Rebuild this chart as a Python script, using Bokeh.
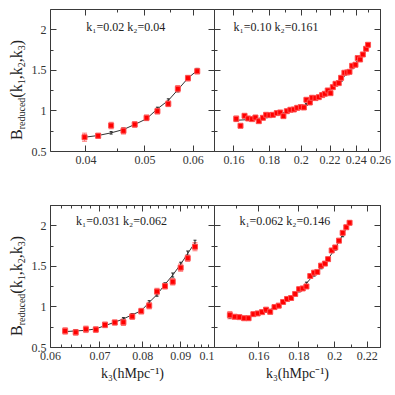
from bokeh.plotting import figure
from bokeh.layouts import row, column
from bokeh.models import (FixedTicker, LinearAxis, LogAxis, Range1d, Whisker, Div,
                          ColumnDataSource, CustomJSTickFormatter, Label, TeeHead)
from bokeh.embed import file_html
from bokeh.resources import INLINE

# ---------------- data ----------------
# panel A: k1=0.02 k2=0.04
k3_a = [0.0398, 0.0419, 0.0440, 0.0461, 0.0481, 0.0503, 0.0524, 0.0546, 0.0566, 0.0588, 0.0609]
B_a = [0.676, 0.694, 0.820, 0.755, 0.833, 0.915, 0.997, 1.088, 1.273, 1.404, 1.490]
err_a = [0.05, 0.03, 0.04, 0.04, 0.035, 0.035, 0.035, 0.035, 0.04, 0.035, 0.035]
th_a = [0.676, 0.697, 0.730, 0.771, 0.833, 0.903, 1.026, 1.129, 1.261, 1.404, 1.499]
therr_a = [0.01, 0.01, 0.015, 0.015, 0.015, 0.015, 0.02, 0.02, 0.025, 0.025, 0.025]

# panel B: k1=0.10 k2=0.161
k3_b = [0.1612, 0.1635, 0.1657, 0.1677, 0.1699, 0.1718, 0.1737, 0.1761, 0.1780, 0.1800,
        0.1820, 0.1844, 0.1865, 0.1885, 0.1906, 0.1929, 0.1951, 0.1973, 0.1997, 0.2017,
        0.2034, 0.2057, 0.2073, 0.2096, 0.2119, 0.2143, 0.2162, 0.2183, 0.2203, 0.2220,
        0.2240, 0.2264, 0.2282, 0.2307, 0.2328, 0.2346, 0.2367, 0.2393, 0.2411, 0.2430,
        0.2452, 0.2479, 0.2495]
B_b = [0.903, 0.817, 0.940, 0.907, 0.899, 0.919, 0.874, 0.915, 0.952, 0.948,
       0.952, 0.973, 0.981, 0.936, 0.997, 1.014, 1.018, 1.038, 1.047, 1.043,
       1.137, 1.104, 1.162, 1.158, 1.170, 1.195, 1.211, 1.252, 1.219, 1.293,
       1.334, 1.343, 1.408, 1.470, 1.474, 1.482, 1.556, 1.569, 1.651, 1.634,
       1.696, 1.766, 1.815]
err_b = [0.035, 0.02, 0.02, 0.02, 0.02, 0.02, 0.02, 0.02, 0.02, 0.02,
         0.02, 0.02, 0.02, 0.02, 0.02, 0.02, 0.02, 0.02, 0.02, 0.02,
         0.02, 0.02, 0.02, 0.02, 0.02, 0.02, 0.02, 0.02, 0.02, 0.02,
         0.02, 0.02, 0.02, 0.02, 0.02, 0.02, 0.02, 0.02, 0.02, 0.02,
         0.02, 0.02, 0.02]
tk_b = [0.1612, 0.1699, 0.1780, 0.1865, 0.1951, 0.2034, 0.2119, 0.2203, 0.2282, 0.2367, 0.2452, 0.2495]
th_b = [0.885, 0.895, 0.925, 0.965, 1.015, 1.080, 1.165, 1.255, 1.380, 1.540, 1.700, 1.800]
therr_b = [0.01, 0.01, 0.01, 0.01, 0.01, 0.01, 0.015, 0.015, 0.015, 0.02, 0.02, 0.02]

# panel C: k1=0.031 k2=0.062
k3_c = [0.0628, 0.0649, 0.0670, 0.0691, 0.0711, 0.0733, 0.0753, 0.0774, 0.0796, 0.0816,
        0.0836, 0.0857, 0.0878, 0.0900, 0.0920, 0.0941]
B_c = [0.704, 0.687, 0.724, 0.721, 0.779, 0.808, 0.811, 0.882, 0.948, 1.016,
       1.190, 1.256, 1.310, 1.484, 1.601, 1.742]
err_c = [0.04, 0.035, 0.04, 0.035, 0.035, 0.03, 0.04, 0.035, 0.035, 0.04,
         0.04, 0.035, 0.04, 0.045, 0.04, 0.05]
th_c = [0.696, 0.704, 0.712, 0.729, 0.770, 0.811, 0.853, 0.903, 0.953, 1.057,
        1.152, 1.277, 1.393, 1.526, 1.659, 1.792]
therr_c = [0.01, 0.01, 0.01, 0.01, 0.015, 0.015, 0.015, 0.015, 0.02, 0.02,
           0.02, 0.02, 0.025, 0.025, 0.03, 0.03]

# panel D: k1=0.062 k2=0.146
k3_d = [0.1469, 0.1490, 0.1511, 0.1532, 0.1552, 0.1574, 0.1594, 0.1615, 0.1634, 0.1654,
        0.1675, 0.1696, 0.1718, 0.1738, 0.1759, 0.1780, 0.1801, 0.1820, 0.1840, 0.1861,
        0.1882, 0.1900, 0.1921, 0.1943, 0.1961, 0.1982, 0.2003, 0.2025, 0.2047, 0.2069,
        0.2089]
B_d = [0.899, 0.879, 0.874, 0.861, 0.861, 0.911, 0.920, 0.936, 0.966, 0.941,
       0.998, 1.016, 1.061, 1.098, 1.110, 1.160, 1.219, 1.228, 1.252, 1.381,
       1.422, 1.431, 1.509, 1.534, 1.589, 1.696, 1.733, 1.817, 1.913, 1.982,
       2.037]
err_d = [0.045, 0.02, 0.02, 0.02, 0.02, 0.02, 0.02, 0.02, 0.02, 0.03,
         0.02, 0.02, 0.02, 0.02, 0.02, 0.02, 0.02, 0.02, 0.02, 0.02,
         0.02, 0.02, 0.02, 0.02, 0.02, 0.02, 0.02, 0.02, 0.02, 0.02,
         0.02]
tk_d = [0.1469, 0.1511, 0.1552, 0.1594, 0.1634, 0.1675, 0.1718, 0.1759, 0.1801, 0.1840,
        0.1882, 0.1921, 0.1961, 0.2003, 0.2047, 0.2089]
th_d = [0.875, 0.865, 0.870, 0.905, 0.945, 0.990, 1.055, 1.120, 1.200, 1.290,
        1.400, 1.490, 1.590, 1.720, 1.890, 2.040]
therr_d = [0.01, 0.01, 0.01, 0.01, 0.01, 0.01, 0.015, 0.015, 0.015, 0.015,
           0.02, 0.02, 0.02, 0.02, 0.025, 0.025]

notes = ["k\u2081=0.02  k\u2082=0.04", "k\u2081=0.10  k\u2082=0.161",
         "k\u2081=0.031  k\u2082=0.062", "k\u2081=0.062  k\u2082=0.146"]
ylabel_main = "B"
ylabel_sub = "reduced"
xlabel = "k\u2083(hMpc\u207b\u00b9)"

x_ranges = [(0.035, 0.065), (0.15, 0.26), (0.06, 0.10), (0.1404, 0.2288)]
x_major = [[0.04, 0.05, 0.06], [0.16, 0.18, 0.20, 0.22, 0.24, 0.26],
           [0.06, 0.07, 0.08, 0.09, 0.10], [0.16, 0.18, 0.20, 0.22]]
x_minor = [[0.045, 0.055], [0.15, 0.17, 0.19, 0.21, 0.23, 0.25],
           [0.062, 0.064, 0.066, 0.068, 0.072, 0.074, 0.076, 0.078, 0.082, 0.084,
            0.086, 0.088, 0.092, 0.094, 0.096, 0.098], [0.15, 0.17, 0.19, 0.21]]
y_major = [0.5, 1.0, 1.5, 2.0]
y_minor = [0.75, 1.25, 1.75]
y_lo, y_hi = 0.5, 2.25

SERIF = "Liberation Serif"
AX = "#3a3a3a"
FMT = CustomJSTickFormatter(code="return String(parseFloat(tick.toPrecision(6)));")

ROW_H = [204, 183]           # heights of the two rows
ROW_TOP = [0, 204]           # page y of each row's top
YLAB_W = 28                  # width of the column holding the y-axis title
FRAME_L, FRAME_MID = 49, 214 # page x of frame edges


def style_common(ax):
    ax.axis_line_color = AX
    ax.major_tick_line_color = AX
    ax.minor_tick_line_color = AX
    ax.major_tick_out = 0
    ax.minor_tick_out = 0


def labeled_axis(ax, majors, minors):
    ax.ticker = FixedTicker(ticks=majors, minor_ticks=minors)
    ax.formatter = FMT
    style_common(ax)
    ax.major_tick_in = 6
    ax.minor_tick_in = 3
    ax.major_label_text_font = SERIF
    ax.major_label_text_font_size = "12px"
    ax.major_label_text_color = "#333333"
    ax.major_label_standoff = 4


def tick_only(p, side, cls, majors, minors):
    # ticks without labels: two stacked axes, long ticks and short ticks
    for pos, ln in ((majors, 6), (minors, 3)):
        ax = cls(ticker=FixedTicker(ticks=[], minor_ticks=pos))
        style_common(ax)
        ax.minor_tick_in = ln
        ax.major_tick_in = 0
        ax.major_label_standoff = 0
        p.add_layout(ax, side)


def make_panel(i, k, B, e, tk, tB, te):
    left = i in (0, 2)
    rw = 0 if i < 2 else 1
    W = (FRAME_MID - YLAB_W) if left else 178
    p = figure(width=W, height=ROW_H[rw], x_axis_type="log",
               x_range=Range1d(*x_ranges[i]), y_range=Range1d(y_lo, y_hi),
               output_backend="svg", toolbar_location=None,
               x_axis_location=None, y_axis_location=None,
               min_border_left=(FRAME_L - YLAB_W) if left else 0,
               min_border_right=0 if left else 12,
               min_border_top=9 if rw == 0 else 1,
               min_border_bottom=53 if rw == 0 else 40)
    p.grid.visible = False
    p.outline_line_color = None
    p.background_fill_color = "white"
    p.border_fill_color = "white"

    xb = LogAxis()
    labeled_axis(xb, x_major[i], x_minor[i])
    if rw == 1:
        xb.axis_label = xlabel
        xb.axis_label_text_font = SERIF
        xb.axis_label_text_font_style = "normal"
        xb.axis_label_text_font_size = "14px"
        xb.axis_label_text_color = "#222222"
        xb.axis_label_standoff = 3
    p.add_layout(xb, "below")

    if left:
        yl = LinearAxis()
        labeled_axis(yl, y_major, y_minor)
        p.add_layout(yl, "left")
    else:
        tick_only(p, "left", LinearAxis, y_major, y_minor)
    tick_only(p, "right", LinearAxis, y_major, y_minor)
    tick_only(p, "above", LogAxis, x_major[i], x_minor[i])

    # data error bars
    src = ColumnDataSource(dict(k=k, B=B, lo=[b - d for b, d in zip(B, e)],
                                hi=[b + d for b, d in zip(B, e)]))
    pink = "#ff7a7a"
    w = Whisker(base="k", lower="lo", upper="hi", source=src, dimension="height",
                line_color=pink, line_width=1,
                upper_head=TeeHead(size=5, line_color=pink, line_width=1),
                lower_head=TeeHead(size=5, line_color=pink, line_width=1))
    p.add_layout(w)

    # theory line with small error bars
    tsrc = ColumnDataSource(dict(k=tk, B=tB, lo=[b - d for b, d in zip(tB, te)],
                                 hi=[b + d for b, d in zip(tB, te)]))
    tw = Whisker(base="k", lower="lo", upper="hi", source=tsrc, dimension="height",
                 line_color="#222222", line_width=1,
                 upper_head=TeeHead(size=3, line_color="#222222", line_width=1),
                 lower_head=TeeHead(size=3, line_color="#222222", line_width=1))
    p.add_layout(tw)
    p.line("k", "B", source=tsrc, line_color="#333333", line_width=1)

    p.scatter("k", "B", source=src, marker="square", size=5,
              fill_color="#ff0000", line_color="#ff5050", line_width=1)

    # annotation k1 k2
    fac = [1.145, 1.065, 1.083, 1.076][i]
    lx = x_ranges[i][0] * fac
    ly = 2.03 if rw == 0 else 2.057
    p.add_layout(Label(x=lx, y=ly, text=notes[i], text_font=SERIF, text_font_size="12px",
                       text_color="#222222", text_baseline="middle", text_align="left"))
    return p


def ylabel_div(rw):
    fb = 151 if rw == 0 else 347          # page y of the neighbouring frame bottom
    start_y = fb - 11 - ROW_TOP[rw]       # where the text begins (its bottom end)
    sub = '<sub style="font-size:10px;vertical-align:-3px;line-height:0">%s</sub>'
    html = ('<div style="position:absolute;left:0;top:0;transform-origin:0 0;'
            'transform:translate(9px,%dpx) rotate(-90deg);white-space:nowrap;'
            'font-family:\'Liberation Serif\',serif;font-size:16px;line-height:16px;'
            'color:#222222;">%s%s(k%s,k%s,k%s)</div>'
            % (start_y, ylabel_main, sub % ylabel_sub, sub % "1", sub % "2", sub % "3"))
    return Div(text=html, width=YLAB_W, height=ROW_H[rw], margin=(0, 0, 0, 0),
               styles={"position": "relative", "overflow": "visible"})


p1 = make_panel(0, k3_a, B_a, err_a, k3_a, th_a, therr_a)
p2 = make_panel(1, k3_b, B_b, err_b, tk_b, th_b, therr_b)
p3 = make_panel(2, k3_c, B_c, err_c, k3_c, th_c, therr_c)
p4 = make_panel(3, k3_d, B_d, err_d, tk_d, th_d, therr_d)

layout = column(row(ylabel_div(0), p1, p2, spacing=0),
                row(ylabel_div(1), p3, p4, spacing=0), spacing=0)

open("out.html", "w").write(file_html(layout, INLINE))
